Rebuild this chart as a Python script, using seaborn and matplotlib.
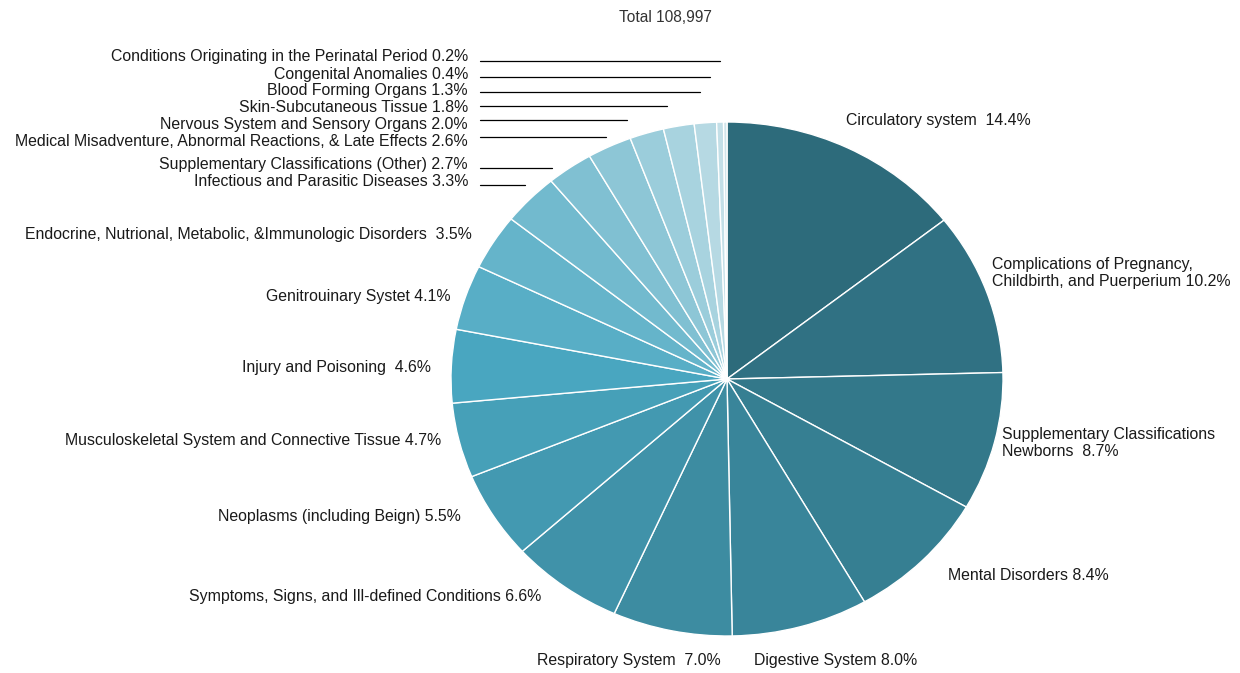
import numpy as np
import pandas as pd
import seaborn as sns
import matplotlib.pyplot as plt

# data
categories = [
    "Circulatory system", "Complications of Pregnancy,\nChildbirth, and Puerperium",
    "Supplementary Classifications\nNewborns", "Mental Disorders", "Digestive System",
    "Respiratory System", "Symptoms, Signs, and Ill-defined Conditions",
    "Neoplasms (including Beign)", "Musculoskeletal System and Connective Tissue",
    "Injury and Poisoning", "Genitrouinary Systet",
    "Endocrine, Nutrional, Metabolic, &Immunologic Disorders",
    "Infectious and Parasitic Diseases", "Supplementary Classifications (Other)",
    "Medical Misadventure, Abnormal Reactions, & Late Effects",
    "Nervous System and Sensory Organs", "Skin-Subcutaneous Tissue",
    "Blood Forming Organs", "Congenital Anomalies",
    "Conditions Originating in the Perinatal Period",
]
shares = [14.4, 10.2, 8.7, 8.4, 8.0, 7.0, 6.6, 5.5, 4.7, 4.6, 4.1, 3.5,
          3.3, 2.7, 2.6, 2.0, 1.8, 1.3, 0.4, 0.2]
gaps = ["  ", " ", "  ", " ", " ", "  ", " ", " ", " ", "  ", " ", "  ",
        " ", " ", " ", " ", " ", " ", " ", " "]
total = "108,997"

df = pd.DataFrame({"category": categories, "share": shares})

sns.set_theme(style="white")
plt.rcParams['font.family'] = ['Liberation Sans', 'DejaVu Sans']

W, H = 1240, 673
fig = plt.figure(figsize=(12.4, 6.73), dpi=100)

# pie is slightly flattened: center (727, 379), rx 276, ry 257 in pixels
cx, cy, rx, ry = 727, 379, 276, 257
ax = fig.add_axes([(cx - rx) / W, (H - cy - ry) / H, 2 * rx / W, 2 * ry / H])

pal = sns.blend_palette(["#2d6b7b", "#49a6c0"], 10) + sns.blend_palette(["#58aec6", "#d0e5eb"], 10)
ax.pie(df["share"], colors=pal, startangle=90, counterclock=False,
       wedgeprops=dict(edgecolor="white", linewidth=1.0))
ax.set_aspect("auto")
ax.set_xlim(-1, 1)
ax.set_ylim(-1, 1)
ax.axis("off")

# label anchors in pixels: (x, y, ha)
label_pos = [
    (846, 121, "left"), (992, 273, "left"), (1002, 443, "left"), (948, 575, "left"),
    (754, 660, "left"), (721, 660, "right"), (541, 597, "right"), (461, 517, "right"),
    (441, 440, "right"), (431, 368, "right"), (451, 296, "right"), (472, 234, "right"),
    (468, 182, "right"), (468, 164, "right"), (468, 142, "right"), (468, 125, "right"),
    (468, 108, "right"), (468, 91, "right"), (468, 74, "right"), (468, 57, "right"),
]
# leader lines for the small slices: (y, x_end)
leaders = {12: (185, 525), 13: (168, 552), 14: (137, 606), 15: (120, 627),
           16: (106, 667), 17: (92, 700), 18: (77, 710), 19: (61, 720)}

for i, (cat, val) in enumerate(zip(df["category"], df["share"])):
    x, y, ha = label_pos[i]
    fig.text(x / W, 1 - y / H, f"{cat}{gaps[i]}{val:.1f}%", ha=ha, va="center",
             fontsize=11.4, color="#1a1a1a", linespacing=1.1)
    if i in leaders:
        ly, xe = leaders[i]
        fig.add_artist(plt.Line2D([480 / W, xe / W], [1 - ly / H, 1 - ly / H],
                                  color="black", linewidth=0.9))

fig.text(665 / W, 1 - 18 / H, f"Total {total}", ha="center", va="center",
         fontsize=11.2, color="#333333")

fig.savefig("out.png", dpi=100)
